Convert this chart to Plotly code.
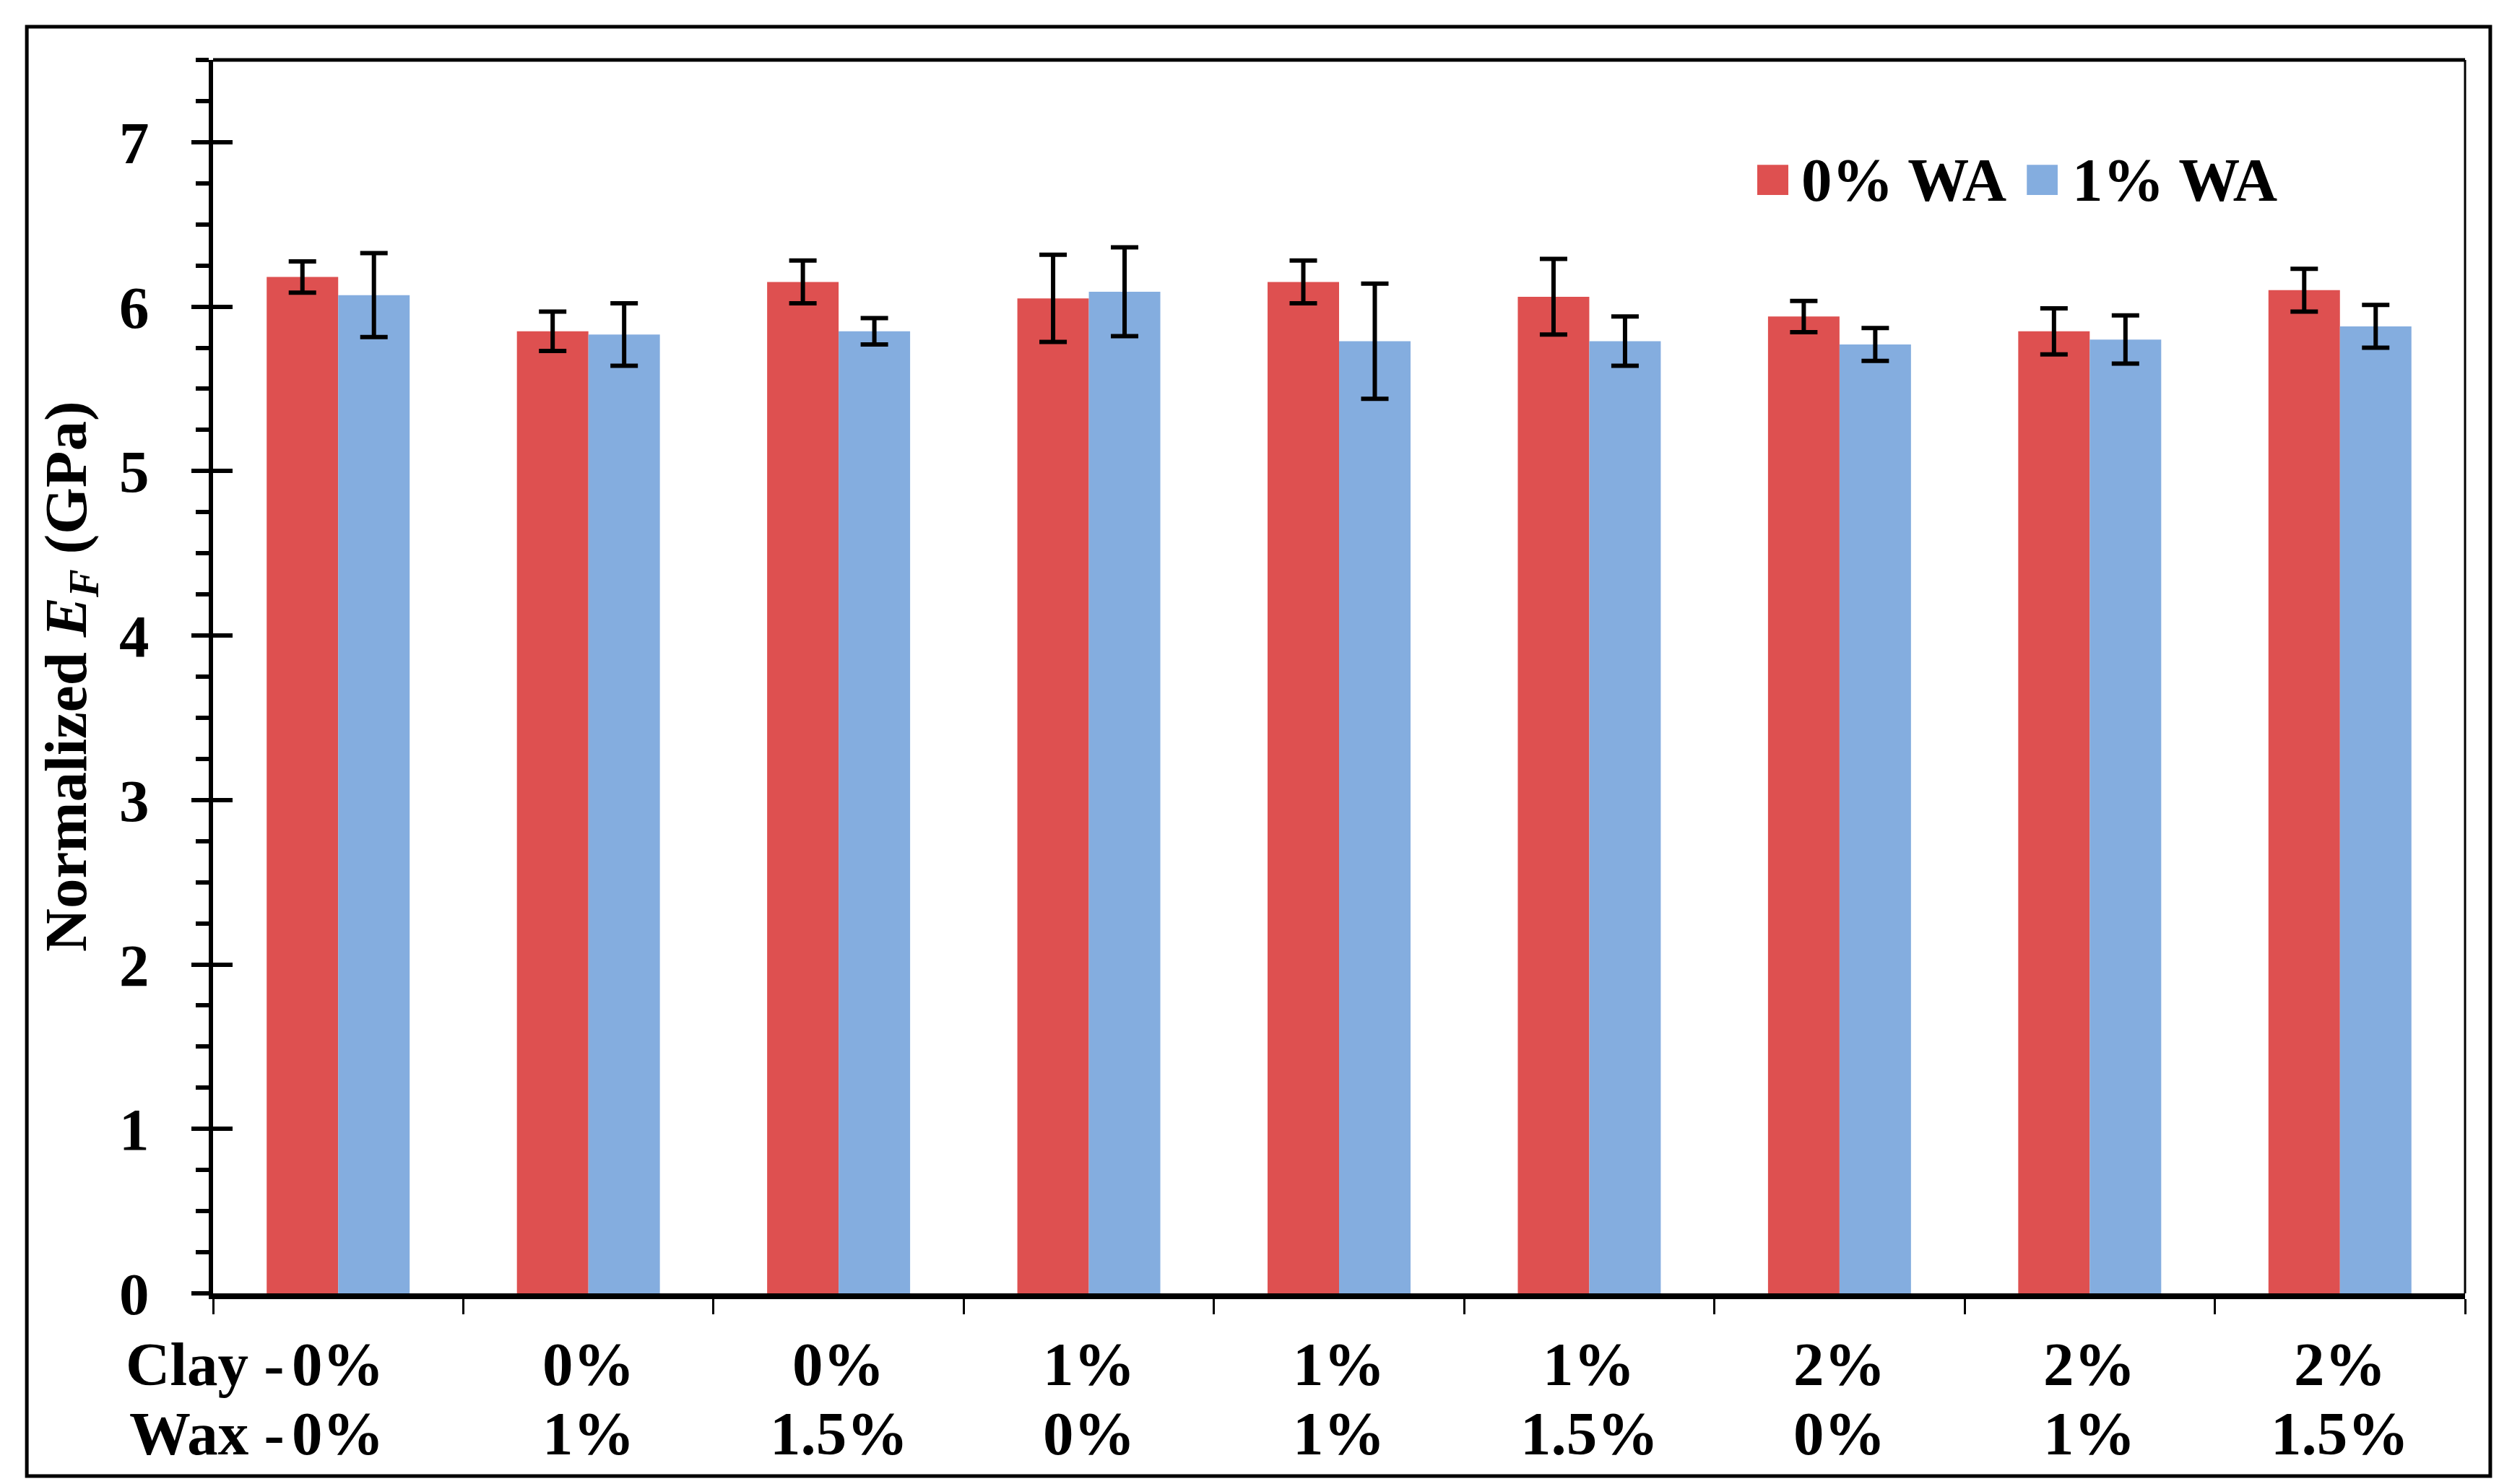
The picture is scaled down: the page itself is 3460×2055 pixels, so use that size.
import plotly.graph_objects as go

# ---- data ----
clay = ["0%", "0%", "0%", "1%", "1%", "1%", "2%", "2%", "2%"]
wax = ["0%", "1%", "1.5%", "0%", "1%", "1.5%", "0%", "1%", "1.5%"]
wa0 = [6.18, 5.85, 6.15, 6.05, 6.15, 6.06, 5.94, 5.85, 6.10]
wa0_err = [0.095, 0.12, 0.13, 0.265, 0.13, 0.23, 0.095, 0.14, 0.13]
wa1 = [6.07, 5.83, 5.85, 6.09, 5.79, 5.79, 5.77, 5.80, 5.88]
wa1_err = [0.255, 0.19, 0.08, 0.27, 0.35, 0.15, 0.10, 0.147, 0.13]
series_names = ["0% WA", "1% WA"]
y_ticks = [0, 1, 2, 3, 4, 5, 6, 7]

cats = [f"Clay {c} / Wax {w}" for c, w in zip(clay, wax)]

RED = "#DE5050"
BLUE = "#84ADDF"
FONT = "Liberation Serif, Times New Roman, serif"
FS_TICK = 83
FS_CAT = 85
FS_LEG = 85
FS_TITLE = 83

fig = go.Figure()
for name, vals, errs, col in [(series_names[0], wa0, wa0_err, RED),
                              (series_names[1], wa1, wa1_err, BLUE)]:
    fig.add_trace(go.Bar(
        x=cats, y=vals, name=name, marker=dict(color=col, line=dict(width=0)),
        error_y=dict(type="data", array=errs, visible=True, color="black",
                     thickness=6, width=19),
        showlegend=False,
    ))

# invisible trace to carry the inside-tick overlay axis
fig.add_trace(go.Scatter(x=[cats[0]], y=[None], yaxis="y2", mode="markers",
                         showlegend=False, hoverinfo="skip"))

fig.update_layout(
    width=3460, height=2055,
    margin=dict(l=287, r=55, t=75, b=272),
    paper_bgcolor="white", plot_bgcolor="white",
    font=dict(family=FONT, size=FS_TICK, color="black", weight="bold"),
    barmode="group", bargap=0.4286, bargroupgap=0,
    showlegend=False,
    xaxis=dict(
        type="category", categoryorder="array", categoryarray=cats,
        range=[-0.5, len(cats) - 0.5],
        showline=True, linecolor="black", linewidth=8,
        ticks="outside", tickson="boundaries", ticklen=21, tickwidth=3,
        tickcolor="black", showticklabels=False, showgrid=False, zeroline=False,
    ),
    yaxis=dict(
        range=[0, 7.5], tickvals=y_ticks, ticktext=[str(v) for v in y_ticks],
        showline=True, linecolor="black", linewidth=6,
        ticks="outside", ticklen=24, tickwidth=6, tickcolor="black",
        ticklabelstandoff=42,
        tickfont=dict(family=FONT, size=FS_TICK, color="black", weight="bold"),
        minor=dict(dtick=0.25, ticks="outside", ticklen=18, tickwidth=6,
                   tickcolor="black", showgrid=False),
        showgrid=False, zeroline=False,
    ),
    yaxis2=dict(
        overlaying="y", side="left", range=[0, 7.5], tickvals=y_ticks,
        ticks="inside", ticklen=27, tickwidth=6, tickcolor="black",
        showticklabels=False, showline=False, showgrid=False, zeroline=False,
    ),
)

shapes = [
    # top and right frame of the plot area
    dict(type="line", xref="paper", yref="paper", x0=0, x1=1, y0=1, y1=1,
         line=dict(color="black", width=5)),
    dict(type="line", xref="paper", yref="paper", x0=1, x1=1, y0=0, y1=1,
         line=dict(color="black", width=3)),
    # outer chart border
    dict(type="rect", xref="paper", yref="paper", x0=-0.0827, x1=1.0112,
         y0=-0.1481, y1=1.0269, line=dict(color="black", width=5),
         fillcolor="rgba(0,0,0,0)", layer="below"),
    # legend swatches
    dict(type="rect", xref="paper", yref="paper", x0=0.6857, x1=0.6995,
         y0=0.8905, y1=0.9150, fillcolor=RED, line=dict(width=0)),
    dict(type="rect", xref="paper", yref="paper", x0=0.8054, x1=0.8191,
         y0=0.8905, y1=0.9150, fillcolor=BLUE, line=dict(width=0)),
]
fig.update_layout(shapes=shapes)

ann = []
for i, c in enumerate(cats):
    ann.append(dict(x=c, y=-0.0574, xref="x", yref="paper", text=f"<b>{clay[i]}</b>",
                    showarrow=False, xanchor="center", yanchor="middle",
                    font=dict(family=FONT, size=FS_CAT, color="black")))
    ann.append(dict(x=c, y=-0.1136, xref="x", yref="paper", text=f"<b>{wax[i]}</b>",
                    showarrow=False, xanchor="center", yanchor="middle",
                    font=dict(family=FONT, size=FS_CAT, color="black")))
ann.append(dict(x=cats[0], y=-0.0574, xref="x", yref="paper", text="<b>Clay -</b>",
                showarrow=False, xanchor="right", yanchor="middle", xshift=-72,
                font=dict(family=FONT, size=FS_CAT, color="black")))
ann.append(dict(x=cats[0], y=-0.1136, xref="x", yref="paper", text="<b>Wax -</b>",
                showarrow=False, xanchor="right", yanchor="middle", xshift=-72,
                font=dict(family=FONT, size=FS_CAT, color="black")))
# y-axis title
ann.append(dict(x=-0.0635, y=0.5, xref="paper", yref="paper",
                text="<b>Normalized <i>E<sub>F</sub></i> (GPa)</b>",
                textangle=-90, showarrow=False, xanchor="center", yanchor="middle",
                font=dict(family=FONT, size=FS_TITLE, color="black")))
# legend text
ann.append(dict(x=0.7045, y=0.9028, xref="paper", yref="paper",
                text=f"<b>{series_names[0]}</b>", showarrow=False,
                xanchor="left", yanchor="middle",
                font=dict(family=FONT, size=FS_LEG, color="black")))
ann.append(dict(x=0.8250, y=0.9028, xref="paper", yref="paper",
                text=f"<b>{series_names[1]}</b>", showarrow=False,
                xanchor="left", yanchor="middle",
                font=dict(family=FONT, size=FS_LEG, color="black")))
fig.update_layout(annotations=ann)

fig.write_html("out.html")
